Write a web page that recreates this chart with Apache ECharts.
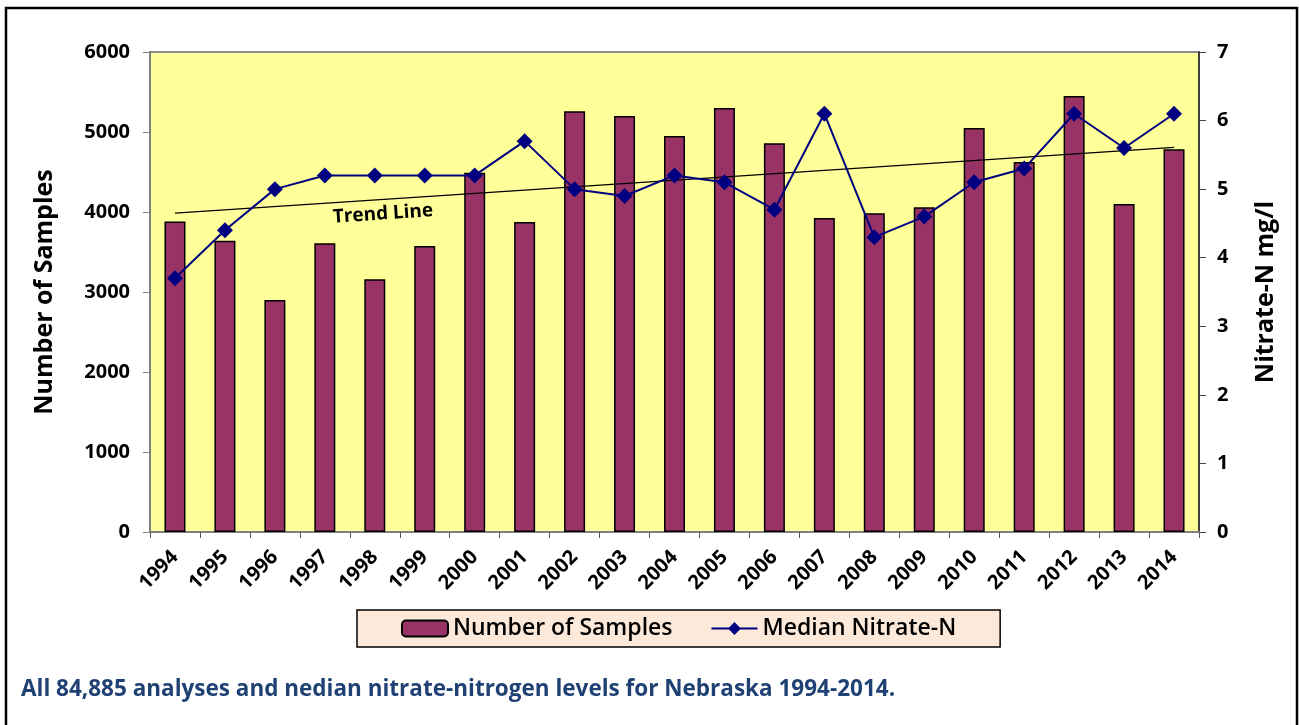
<!DOCTYPE html>
<html lang="en">
<head>
    <meta charset="UTF-8">
    <title>Nebraska nitrate</title>
    <style>
        html, body { margin: 0; padding: 0; background: #fff; }
        #main { width: 1299px; height: 725px; }
    </style>
</head>
<body>
<div id="main"></div>
<script src="https://cdn.jsdelivr.net/npm/echarts@6/dist/echarts.min.js"></script>
<script>
    var years = ['1994', '1995', '1996', '1997', '1998', '1999', '2000', '2001', '2002', '2003', '2004',
        '2005', '2006', '2007', '2008', '2009', '2010', '2011', '2012', '2013', '2014'];
    var samples = [3880, 3640, 2900, 3610, 3160, 3575, 4490, 3875, 5260, 5200, 4950,
        5300, 4860, 3925, 3985, 4060, 5050, 4625, 5450, 4100, 4785];
    var nitrate = [3.7, 4.4, 5.0, 5.2, 5.2, 5.2, 5.2, 5.7, 5.0, 4.9, 5.2,
        5.1, 4.7, 6.1, 4.3, 4.6, 5.1, 5.3, 6.1, 5.6, 6.1];
    // trend line end points, right axis units
    var trendEnds = [4.65, 5.61];

    var trend = years.map(function (y, i) {
        if (i === 0) return trendEnds[0];
        if (i === years.length - 1) return trendEnds[1];
        return null;
    });

    var font = '"Open Sans", sans-serif';
    var chart = echarts.init(document.getElementById('main'));

    var option = {
        backgroundColor: '#fff',
        textStyle: { fontFamily: font },
        grid: {
            left: 150, right: 100, top: 52, bottom: 193,
            show: true,
            backgroundColor: '#FFFF99',
            borderColor: '#8c8c8c',
            borderWidth: 2
        },
        legend: {
            data: ['Number of Samples', 'Median Nitrate-N'],
            left: 357,
            top: 610,
            padding: [7, 44, 7, 44],
            itemGap: 38,
            itemWidth: 46,
            itemHeight: 16,
            backgroundColor: '#FCE9DA',
            borderColor: '#000',
            borderWidth: 1.5,
            borderRadius: 0,
            textStyle: { fontFamily: font, fontSize: 23, fontWeight: 600, color: '#000' }
        },
        xAxis: {
            type: 'category',
            data: years,
            axisLine: { lineStyle: { color: '#808080', width: 2 } },
            axisTick: { show: true, length: 6, lineStyle: { color: '#555' } },
            axisLabel: {
                rotate: 45, margin: 22,
                fontFamily: font, fontSize: 20, fontWeight: 'bold', color: '#000'
            }
        },
        yAxis: [{
            type: 'value',
            min: 0, max: 6000, interval: 1000,
            name: 'Number of Samples',
            nameLocation: 'middle',
            nameRotate: 90,
            nameGap: 93,
            nameTextStyle: { fontFamily: font, fontSize: 25, fontWeight: 'bold', color: '#000' },
            axisLine: { show: true, lineStyle: { color: '#808080', width: 2 } },
            axisTick: { show: true, length: 7, lineStyle: { color: '#808080' } },
            axisLabel: {
                margin: 20, fontFamily: font, fontSize: 20, fontWeight: 'bold', color: '#000',
                formatter: function (v) { return String(v); }
            },
            splitLine: { show: false }
        }, {
            type: 'value',
            min: 0, max: 7, interval: 1,
            name: 'Nitrate-N mg/l',
            nameLocation: 'middle',
            nameRotate: 90,
            nameGap: 54,
            nameTextStyle: { fontFamily: font, fontSize: 25, fontWeight: 'bold', color: '#000' },
            axisLine: { show: true, lineStyle: { color: '#404040', width: 2 } },
            axisTick: { show: true, length: 7, lineStyle: { color: '#404040' } },
            axisLabel: { margin: 18, fontFamily: font, fontSize: 20, fontWeight: 'bold', color: '#000' },
            splitLine: { show: false }
        }],
        series: [{
            name: 'Number of Samples',
            type: 'bar',
            data: samples,
            barWidth: 21,
            itemStyle: { color: '#993366', borderColor: '#000', borderWidth: 1.5 }
        }, {
            name: 'Median Nitrate-N',
            type: 'line',
            yAxisIndex: 1,
            data: nitrate,
            symbol: 'diamond',
            symbolSize: 16,
            lineStyle: { color: '#000080', width: 2 },
            itemStyle: { color: '#000080' },
            z: 4
        }, {
            name: 'Trend',
            type: 'line',
            yAxisIndex: 1,
            data: trend,
            connectNulls: true,
            showSymbol: false,
            symbol: 'none',
            lineStyle: { color: '#000', width: 1.3 },
            z: 3,
            silent: true
        }],
        graphic: [{
            type: 'rect',
            shape: { x: 6, y: 8, width: 1291, height: 730 },
            style: { fill: 'none', stroke: '#000', lineWidth: 2.5 },
            silent: true
        }, {
            type: 'text',
            x: 383, y: 214,
            rotation: 0.066,
            style: {
                text: 'Trend Line', fontFamily: font, fontSize: 19, fontWeight: 'bold',
                fill: '#000', align: 'center', verticalAlign: 'middle'
            },
            z: 10
        }, {
            type: 'text',
            left: 21, top: 678,
            style: {
                text: 'All 84,885 analyses and nedian nitrate-nitrogen levels for Nebraska 1994-2014.',
                fontFamily: font, fontSize: 22.5, fontWeight: 'bold', fill: '#1F4173'
            }
        }]
    };

    chart.setOption(option);
</script>
</body>
</html>
